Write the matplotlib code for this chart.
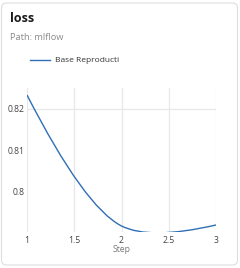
import matplotlib.pyplot as plt
import numpy as np
from matplotlib.path import Path
from matplotlib.patches import PathPatch, FancyBboxPatch
from matplotlib.lines import Line2D

# data
steps = [1, 2, 3]
loss = [0.82337, 0.79181, 0.79205]
series_name = 'Base Reproducti'
x_ticks = [1, 1.5, 2, 2.5, 3]
x_labels = ['1', '1.5', '2', '2.5', '3']
y_ticks = [0.8, 0.81, 0.82]
y_labels = ['0.8', '0.81', '0.82']

plt.rcParams['font.family'] = ['Open Sans', 'DejaVu Sans']

LINE = '#2f6fb5'
GRID = '#e8e8e8'


def spline_path(ax, xs, ys, smoothness=1.0):
    # plotly-style catmull-rom smoothing, done in pixel space
    pts = ax.transData.transform(np.column_stack([xs, ys]))
    tangents = []
    for i in range(1, len(pts) - 1):
        prev, cur, nxt = pts[i - 1], pts[i], pts[i + 1]
        d1 = prev - cur
        d2 = nxt - cur
        d1a = np.hypot(*d1) ** 0.5
        d2a = np.hypot(*d2) ** 0.5
        num = (d2a ** 2 * d1 - d1a ** 2 * d2) * smoothness
        den1 = 3 * d2a * (d1a + d2a)
        den2 = 3 * d1a * (d1a + d2a)
        tangents.append((cur + num / den1, cur - num / den2))
    verts = [pts[0], tangents[0][0], pts[1]]
    codes = [Path.MOVETO, Path.CURVE3, Path.CURVE3]
    for i in range(2, len(pts) - 1):
        verts += [tangents[i - 2][1], tangents[i - 1][0], pts[i]]
        codes += [Path.CURVE4] * 3
    verts += [tangents[-1][1], pts[-1]]
    codes += [Path.CURVE3, Path.CURVE3]
    verts = ax.transData.inverted().transform(np.array(verts))
    return Path(verts, codes)


fig = plt.figure(figsize=(2.4, 2.68), dpi=100)

# card background
card = FancyBboxPatch((0.015, 0.03), 2.36, 2.62,
                      boxstyle='round,pad=0,rounding_size=0.05',
                      transform=fig.dpi_scale_trans,
                      facecolor='white', edgecolor='#dedede', lw=0.8, zorder=-5)
fig.patches.append(card)

fig.text(10 / 240, 1 - 18 / 268, 'loss', fontsize=9, fontweight='bold',
         color='#1a1a1a', va='center', ha='left')
fig.text(10 / 240, 1 - 38 / 268, 'Path: mlflow', fontsize=6.7, color='#8a8a8a',
         va='center', ha='left')

# legend
fig.add_artist(Line2D([30 / 240, 50 / 240], [1 - 60 / 268] * 2, color=LINE, lw=1.0))
fig.text(55 / 240, 1 - 60 / 268, series_name, fontsize=6.0, color='#333333',
         va='center', ha='left')

ax = fig.add_axes([27 / 240, 36 / 268, 189 / 240, 144 / 268])
ax.set_xlim(1, 3)
ax.set_ylim(0.79036, 0.82506)

for x in x_ticks:
    ax.axvline(x, color=GRID, lw=0.9, zorder=0)
ax.axhline(y_ticks[-1], color=GRID, lw=0.9, zorder=0)

path = spline_path(ax, steps, loss)
ax.add_patch(PathPatch(path, facecolor='none', edgecolor=LINE, lw=1.0, zorder=3))

ax.set_xticks(x_ticks)
ax.set_xticklabels(x_labels)
ax.set_yticks(y_ticks)
ax.set_yticklabels(y_labels)
ax.tick_params(length=0, labelsize=6.2, labelcolor='#444444', pad=3)
ax.tick_params(axis='y', pad=2)
ax.set_xlabel('Step', fontsize=6.2, color='#777777', labelpad=0)
for s in ax.spines.values():
    s.set_visible(False)
ax.patch.set_alpha(0)

plt.savefig('out.png', dpi=100)
plt.close()
